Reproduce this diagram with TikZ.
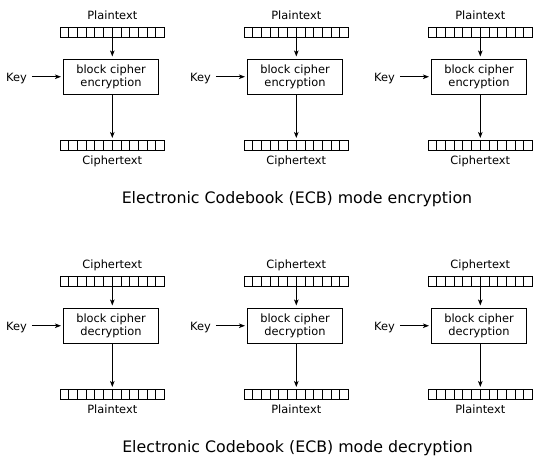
\documentclass[tikz,border=0pt]{standalone}
\usepackage{fontspec}
\setmainfont{DejaVu Sans}
\usetikzlibrary{arrows.meta}
\begin{document}
\begin{tikzpicture}[x=1pt,y=-1pt,
  every node/.style={inner sep=0pt,outer sep=0pt},
  lbl/.style={font=\fontsize{11.4}{13}\selectfont,anchor=base},
  ttl/.style={font=\fontsize{15.8}{18}\selectfont,anchor=base},
  bar/.style={draw,line width=0.9pt,minimum width=104.4pt,minimum height=9.5pt},
  cipherbox/.style={draw,line width=0.9pt,minimum width=95pt,minimum height=35.5pt,
    align=center,font=\fontsize{11.4}{13}\selectfont},
  arr/.style={line width=0.9pt,-{Stealth[length=6pt,width=4.5pt,inset=1.5pt]},shorten >=2.5pt}]
\useasboundingbox (0,0) rectangle (541,459);
\foreach \k/\yo/\top/\bot/\op/\nm in {0/0/Plaintext/Ciphertext/encryption/e, 1/249/Ciphertext/Plaintext/decryption/d}{
  \foreach \c in {0,1,2}{
    \pgfmathsetmacro{\cx}{112.3+184*\c}
    \node[lbl] (t\nm\c) at (\cx,19+\yo) {\top};
    \node[bar] (a\nm\c) at (\cx,32.25+\yo) {};
    \foreach \i in {1,...,11}{
      \draw[line width=0.9pt] ([xshift=8.7*\i pt]a\nm\c.north west) -- ([xshift=8.7*\i pt]a\nm\c.south west);
    }
    \node[cipherbox] (x\nm\c) at (\cx-1.3,76.75+\yo) {block cipher\\\op};
    \node[bar] (b\nm\c) at (\cx,145.25+\yo) {};
    \foreach \i in {1,...,11}{
      \draw[line width=0.9pt] ([xshift=8.7*\i pt]b\nm\c.north west) -- ([xshift=8.7*\i pt]b\nm\c.south west);
    }
    \node[lbl] (u\nm\c) at (\cx,164.5+\yo) {\bot};
    \node[lbl] (k\nm\c) at (\cx-95.8,81+\yo) {Key};
    \draw[arr] (a\nm\c.south) -- (a\nm\c.south |- x\nm\c.north);
    \draw[arr] (x\nm\c.south -| a\nm\c.south) -- (b\nm\c.north);
    \draw[arr] ([xshift=5pt]k\nm\c.base east |- x\nm\c.west) -- (x\nm\c.west);
  }
}
\node[ttl] (te) at (297,203) {Electronic Codebook (ECB) mode encryption};
\node[ttl] (td) at (297.5,452) {Electronic Codebook (ECB) mode decryption};
\end{tikzpicture}
\end{document}
